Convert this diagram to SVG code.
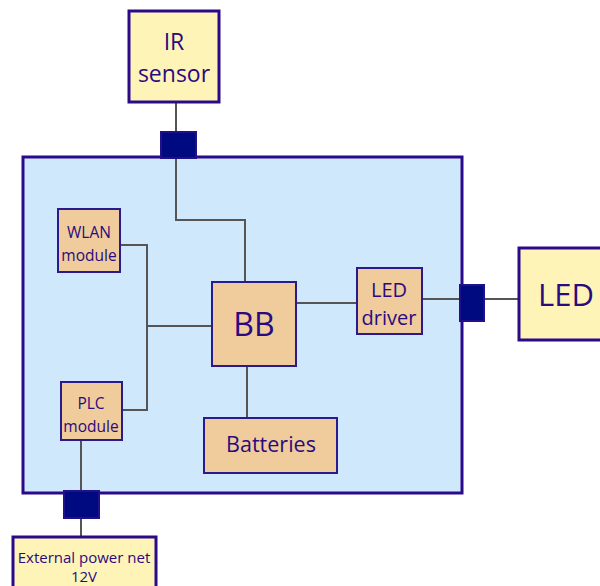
<svg xmlns="http://www.w3.org/2000/svg" width="600" height="586" viewBox="0 0 600 586">
<style>
.yel{fill:#fff4b8;stroke:#2a0a8a;stroke-width:3}
.org{fill:#f0cb9b;stroke:#2a1a90;stroke-width:2}
.port{fill:#000a80;stroke:#22108a;stroke-width:2}
.main{fill:#d0e8fc;stroke:#2a0a8a;stroke-width:3}
.ln{fill:none;stroke:#555;stroke-width:2}
text{font-family:"Open Sans","Noto Sans",sans-serif;fill:#2a0a80;text-anchor:middle}
</style>
<rect width="600" height="586" fill="#fff"/>
<g id="container"><rect class="main" x="23" y="157" width="439" height="336"/></g>
<g id="connectors">
<path class="ln" d="M176 102V131M176 158V220H245V282"/>
<path class="ln" d="M120 245H147V410H122M147 326H212"/>
<path class="ln" d="M296 303H357"/>
<path class="ln" d="M422 299H460M484 299H519"/>
<path class="ln" d="M247 366V418"/>
<path class="ln" d="M81 440V490M81 518V537"/>
</g>
<g id="ir-sensor"><rect class="yel" x="129" y="11" width="90" height="91"/>
<text x="174" y="50" font-size="23">IR</text><text x="174" y="82" font-size="23">sensor</text></g>
<g id="port-top"><rect class="port" x="161" y="132" width="35" height="26"/></g>
<g id="port-right"><rect class="port" x="460" y="285" width="24" height="36"/></g>
<g id="port-bottom"><rect class="port" x="64" y="491" width="35" height="27"/></g>
<g id="wlan"><rect class="org" x="58" y="209" width="62" height="63"/>
<text x="89" y="238" font-size="15.5">WLAN</text><text x="89" y="261" font-size="15.5">module</text></g>
<g id="plc"><rect class="org" x="61" y="382" width="61" height="58"/>
<text x="91" y="409" font-size="15.5">PLC</text><text x="91" y="432" font-size="15.5">module</text></g>
<g id="bb"><rect class="org" x="212" y="282" width="84" height="84"/>
<text x="254" y="336" font-size="32">BB</text></g>
<g id="led-driver"><rect class="org" x="357" y="268" width="65" height="66"/>
<text x="389" y="297" font-size="20">LED</text><text x="389" y="325" font-size="20">driver</text></g>
<g id="batteries"><rect class="org" x="204" y="418" width="133" height="55"/>
<text x="271" y="452" font-size="21.5">Batteries</text></g>
<g id="led"><rect class="yel" x="519" y="248" width="90" height="92"/>
<text x="566" y="306" font-size="31">LED</text></g>
<g id="ext-power"><rect class="yel" x="13" y="537" width="143" height="60"/>
<text x="84" y="563" font-size="15">External power net</text><text x="84" y="582" font-size="15">12V</text></g>
</svg>
